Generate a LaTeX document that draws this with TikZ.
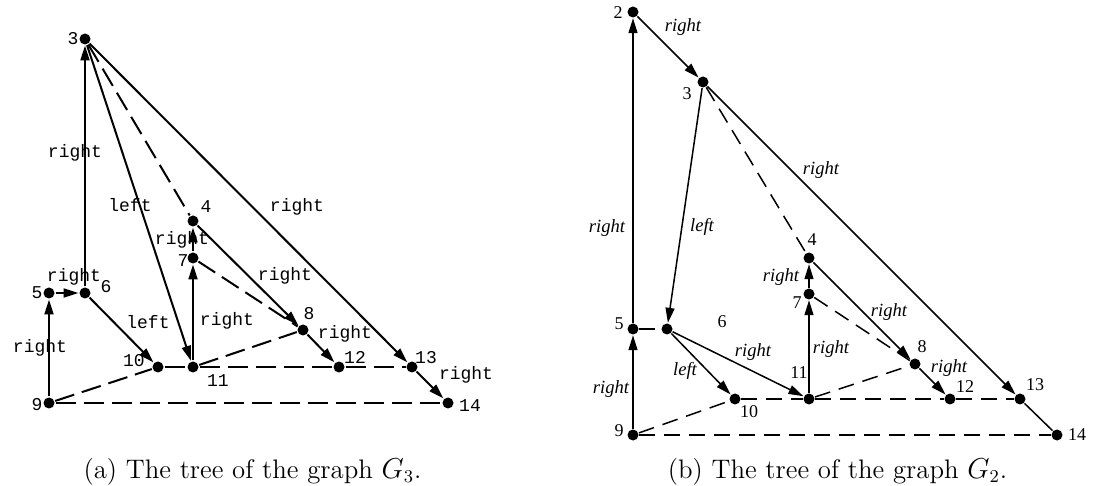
\documentclass[tikz,border=0pt]{standalone}
\usepackage{fontspec}
\usepackage{tikz}
\usetikzlibrary{arrows.meta}
\newfontfamily\courierfont{Liberation Mono}
\newfontfamily\timesfont{Liberation Serif}
\tikzset{
  vertex/.style={
    circle,
    fill=black,
    inner sep=0pt,
    minimum size=5.5pt
  },
  caption/.style={
    anchor=base,
    inner sep=0pt,
    font=\fontsize{13.4}{16}\selectfont
  }
}

\begin{document}
\begin{tikzpicture}[
  x=0.5pt, y=-0.5pt,
  treeedge/.style={-{Triangle[length=7.5pt,width=4.5pt]}},
  backedge/.style={dash pattern=on 10pt off 4pt},
  numa/.style={inner sep=0pt, font=\courierfont\fontsize{9}{10}\selectfont},
  lbla/.style={inner sep=0pt, font=\courierfont\fontsize{9}{10}\selectfont},
  numb/.style={inner sep=0pt, font=\timesfont\fontsize{9}{10}\selectfont},
  lblb/.style={inner sep=0pt, font=\timesfont\itshape\fontsize{9.3}{10}\selectfont}
]
\useasboundingbox (0,0) rectangle (1093,486);

% ---- (a) tree of G3 ----
\begin{scope}[line width=1pt]
\node[vertex] (a3)  at (85,39)   {};
\node[vertex] (a4)  at (193,221) {};
\node[vertex] (a7)  at (193,258) {};
\node[vertex] (a5)  at (49,293)  {};
\node[vertex] (a6)  at (85,293)  {};
\node[vertex] (a8)  at (303,330) {};
\node[vertex] (a10) at (158,367) {};
\node[vertex] (a11) at (193,367) {};
\node[vertex] (a12) at (339,367) {};
\node[vertex] (a13) at (412,367) {};
\node[vertex] (a9)  at (49,403)  {};
\node[vertex] (a14) at (448,403) {};
% tree edges
\draw[treeedge] (a9) -- (a5);
\draw[treeedge] (a5) -- (a6);
\draw[treeedge] (a6) -- (a3);
\draw[treeedge] (a6) -- (a10);
\draw[treeedge] (a3) -- (a11);
\draw[treeedge] (a3) -- (a13);
\draw[treeedge] (a13) -- (a14);
\draw[treeedge] (a11) -- (a7);
\draw[treeedge] (a7) -- (a4);
\draw[treeedge] (a4) -- (a8);
\draw[treeedge] (a8) -- (a12);
% other edges
\draw[backedge] (a3) -- (a4);
\draw[backedge] (a7) -- (a8);
\draw[backedge] (a11) -- (a8);
\draw[backedge] (a9) -- (a10);
\draw[backedge] (a10) -- (a11);
\draw[backedge] (a11) -- (a12);
\draw[backedge] (a12) -- (a13);
\draw[backedge] (a9) -- (a14);
\end{scope}
% vertex numbers
\node[numa] (a3n)  at (73,39)   {3};
\node[numa] (a4n)  at (206,207) {4};
\node[numa] (a7n)  at (183,261) {7};
\node[numa] (a5n)  at (37,293)  {5};
\node[numa] (a6n)  at (106,287) {6};
\node[numa] (a8n)  at (309,314) {8};
\node[numa] (a10n) at (134,361) {10};
\node[numa] (a11n) at (218,381) {11};
\node[numa] (a12n) at (355,357) {12};
\node[numa] (a13n) at (426,358) {13};
\node[numa] (a9n)  at (37,405)  {9};
\node[numa] (a14n) at (470,406) {14};
% edge labels
\node[lbla] (a6to3)   at (75,153)  {right};
\node[lbla] (a3to11)  at (130,205) {left};
\node[lbla] (a3to13)  at (297,207) {right};
\node[lbla] (a7to4)   at (182,240) {right};
\node[lbla] (a4to8)   at (285,276) {right};
\node[lbla] (a5to6)   at (74,277)  {right};
\node[lbla] (a6to10)  at (148,322) {left};
\node[lbla] (a11to7)  at (227,321) {right};
\node[lbla] (a8to12)  at (345,334) {right};
\node[lbla] (a9to5)   at (40,348)  {right};
\node[lbla] (a13to14) at (466,375) {right};
\node[caption] (capa) at (252.5,478) {(a) The tree of the graph $G_3$.};

% ---- (b) tree of G2 ----
\begin{scope}[line width=0.75pt, backedge/.style={dash pattern=on 8pt off 4.5pt}]
\node[vertex] (b2)  at (633,12)   {};
\node[vertex] (b3)  at (703,82)   {};
\node[vertex] (b4)  at (809,258)  {};
\node[vertex] (b7)  at (809,294)  {};
\node[vertex] (b5)  at (633,329)  {};
\node[vertex] (b6)  at (667,329)  {};
\node[vertex] (b8)  at (915,364)  {};
\node[vertex] (b10) at (735,399)  {};
\node[vertex] (b11) at (809,399)  {};
\node[vertex] (b12) at (950,399)  {};
\node[vertex] (b13) at (1020,399) {};
\node[vertex] (b9)  at (633,435)  {};
\node[vertex] (b14) at (1057,435) {};
% tree edges
\draw[treeedge] (b9) -- (b5);
\draw[treeedge] (b5) -- (b2);
\draw[treeedge] (b2) -- (b3);
\draw[treeedge] (b3) -- (b6);
\draw[treeedge] (b3) -- (b13);
\draw (b13) -- (b14);
\draw[treeedge] (b6) -- (b10);
\draw[treeedge] (b6) -- (b11);
\draw[treeedge] (b11) -- (b7);
\draw[treeedge] (b7) -- (b4);
\draw[treeedge] (b4) -- (b8);
\draw[treeedge] (b8) -- (b12);
% other edges
\draw[backedge] (b5) -- (b6);
\draw[backedge] (b3) -- (b4);
\draw[backedge] (b7) -- (b8);
\draw[backedge] (b11) -- (b8);
\draw[backedge] (b9) -- (b10);
\draw[backedge] (b10) -- (b11);
\draw[backedge] (b11) -- (b12);
\draw[backedge] (b12) -- (b13);
\draw[backedge] (b9) -- (b14);
\end{scope}
% vertex numbers
\node[numb] (b2n)  at (618,13)   {2};
\node[numb] (b3n)  at (687,94)   {3};
\node[numb] (b4n)  at (812,240)  {4};
\node[numb] (b7n)  at (797,303)  {7};
\node[numb] (b5n)  at (619,324)  {5};
\node[numb] (b6n)  at (722,322)  {6};
\node[numb] (b8n)  at (922,347)  {8};
\node[numb] (b10n) at (749,412)  {10};
\node[numb] (b11n) at (799,373)  {11};
\node[numb] (b12n) at (965,387)  {12};
\node[numb] (b13n) at (1035,385) {13};
\node[numb] (b9n)  at (619,431)  {9};
\node[numb] (b14n) at (1077,435) {14};
% edge labels
\node[lblb] (b2to3)   at (683,27)  {right};
\node[lblb] (b3to13)  at (821,170) {right};
\node[lblb] (b5to2)   at (607,228) {right};
\node[lblb] (b3to6)   at (702,227) {left};
\node[lblb] (b7to4)   at (781,277) {right};
\node[lblb] (b4to8)   at (889,312) {right};
\node[lblb] (b6to11)  at (753,352) {right};
\node[lblb] (b11to7)  at (831,349) {right};
\node[lblb] (b6to10)  at (685,371) {left};
\node[lblb] (b8to12)  at (949,368) {right};
\node[lblb] (b9to5)   at (611,389) {right};
\node[caption] (capb) at (837.5,478) {(b) The tree of the graph $G_2$.};
\end{tikzpicture}
\end{document}
